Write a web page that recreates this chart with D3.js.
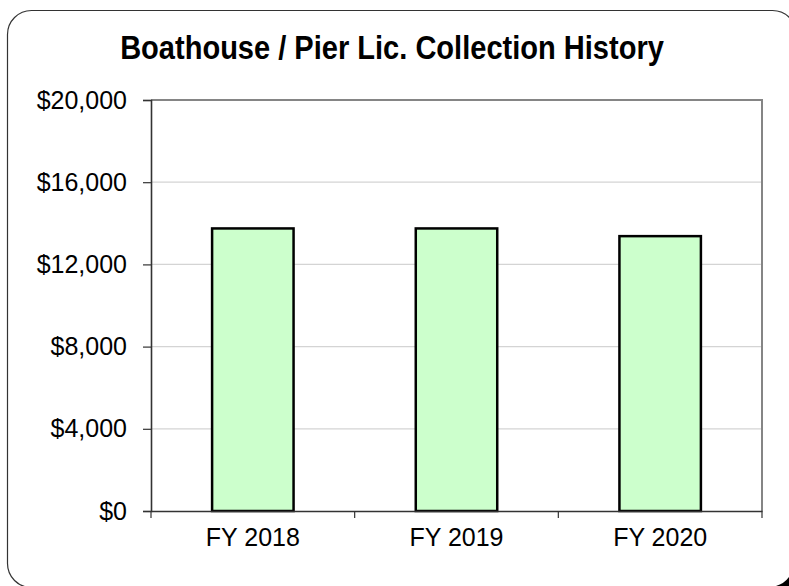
<!DOCTYPE html>
<html>
<head>
<meta charset="utf-8">
<script src="https://cdn.jsdelivr.net/npm/d3@7"></script>
<style>
  html, body { margin: 0; padding: 0; background: #ffffff; overflow: hidden; }
  svg { display: block; overflow: hidden; }
  text { font-family: "Liberation Sans", Arial, sans-serif; fill: #000; }
</style>
</head>
<body>
<div id="chart"></div>
<script>
// Collections by fiscal year
const categories = ["FY 2018", "FY 2019", "FY 2020"];
const collections = [13750, 13750, 13375];
const yTicks = [0, 4000, 8000, 12000, 16000, 20000];
const title = "Boathouse / Pier Lic. Collection History";

const W = 789, H = 586;
const plot = { left: 151, top: 100, right: 762, bottom: 511 };

const svg = d3.select("#chart").append("svg")
  .attr("width", W).attr("height", H)
  .attr("viewBox", `0 0 ${W} ${H}`);

// Chart frame: rounded panel whose right and bottom sides run past the page
const r = 24, fx = 7.5, fy = 10.5, fr = 796.5, fb = 587.5;
svg.append("path")
  .attr("d", `M${fx + r},${fb} A${r},${r} 0 0 1 ${fx},${fb - r} V${fy + r} A${r},${r} 0 0 1 ${fx + r},${fy} H${fr - r} A${r},${r} 0 0 1 ${fr},${fy + r}`)
  .attr("fill", "none").attr("stroke", "#333").attr("stroke-width", 1.2);

// Dark drop shadow peeking out at the lower-right corner
svg.append("path")
  .attr("d", `M789,577 A${r},${r} 0 0 1 776,586 H789 Z`)
  .attr("fill", "#000");

// Title, set slightly condensed
svg.append("text")
  .attr("transform", "translate(392,59) scale(0.88,1)")
  .attr("text-anchor", "middle")
  .attr("font-size", 33).attr("font-weight", "bold")
  .text(title);

const x = d3.scaleBand().domain(categories).range([plot.left, plot.right]).padding(0);
const y = d3.scaleLinear().domain([0, 20000]).range([plot.bottom, plot.top]);
const barW = x.bandwidth() * 0.4;

// Horizontal gridlines
svg.append("g").selectAll("line")
  .data(yTicks.filter(t => t > 0 && t < 20000))
  .join("line")
  .attr("x1", plot.left).attr("x2", plot.right)
  .attr("y1", d => y(d)).attr("y2", d => y(d))
  .attr("stroke", "#d4d4d4").attr("stroke-width", 1.2);

// Top and right plot edges
svg.append("path")
  .attr("d", `M${plot.left},${plot.top}H${plot.right}V${plot.bottom}`)
  .attr("fill", "none").attr("stroke", "#858585").attr("stroke-width", 2);

// Bars
svg.append("g").selectAll("rect")
  .data(categories.map((c, i) => ({ c, v: collections[i] })))
  .join("rect")
  .attr("x", d => x(d.c) + (x.bandwidth() - barW) / 2)
  .attr("width", barW)
  .attr("y", d => y(d.v))
  .attr("height", d => y(0) - y(d.v))
  .attr("fill", "#ccffcc")
  .attr("stroke", "#000").attr("stroke-width", 2.5);

// Y axis
const yAxis = d3.axisLeft(y)
  .tickValues(yTicks)
  .tickSize(8)
  .tickPadding(16)
  .tickFormat(d => "$" + d3.format(",")(d));
const gy = svg.append("g").attr("transform", `translate(${plot.left},0)`).call(yAxis);
gy.select(".domain").attr("stroke", "#333").attr("stroke-width", 1.6);
gy.selectAll(".tick line").attr("stroke", "#333").attr("stroke-width", 1.2);
gy.selectAll(".tick text")
  .attr("font-size", 25)
  .attr("font-family", "Liberation Sans, Arial, sans-serif")
  .attr("fill", "#000");

// X axis: ticks fall on category boundaries
const xAxis = d3.axisBottom(x).tickSize(0).tickPadding(17);
const gx = svg.append("g").attr("transform", `translate(0,${plot.bottom})`).call(xAxis);
gx.select(".domain").attr("stroke", "#333").attr("stroke-width", 1.6);
gx.selectAll(".tick text")
  .attr("font-size", 25)
  .attr("font-family", "Liberation Sans, Arial, sans-serif")
  .attr("fill", "#000");
const boundaries = categories.map(c => x(c)).concat([x.range()[1]]);
gx.append("g").selectAll("line")
  .data(boundaries)
  .join("line")
  .attr("x1", d => d).attr("x2", d => d)
  .attr("y1", 0).attr("y2", 7)
  .attr("stroke", "#333").attr("stroke-width", 1.2);
</script>
</body>
</html>
